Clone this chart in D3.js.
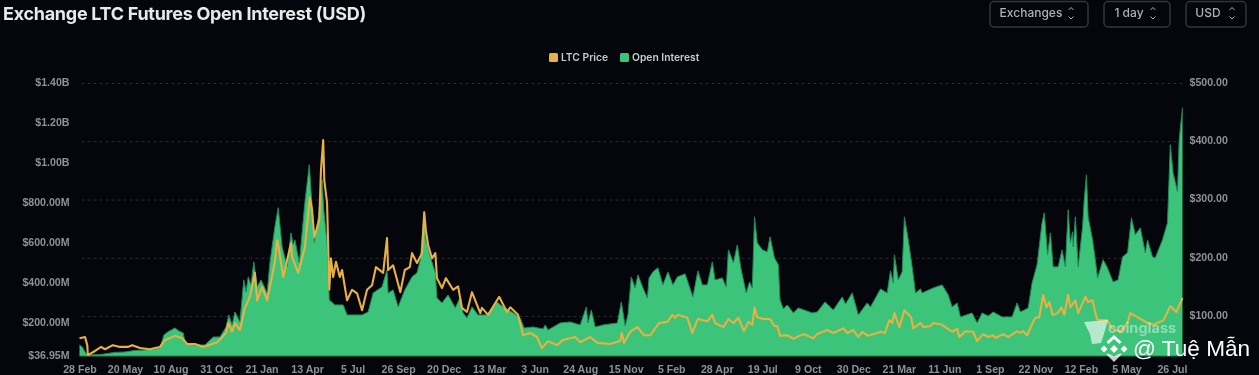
<!DOCTYPE html>
<html>

<head>
    <meta charset="utf-8">
    <title>Exchange LTC Futures Open Interest (USD)</title>
    <script src="https://d3js.org/d3.v7.min.js"></script>
    <style>
        body {
            margin: 0;
            padding: 0;
            background: #04060c;
            overflow: hidden;
        }

        svg {
            display: block;
            font-family: Inter, Roboto, sans-serif;
        }

        .axis text {
            fill: #8f9194;
            font-size: 10.6px;
            font-weight: 600;
        }

        .axis .domain {
            display: none;
        }

        .grid line {
            stroke: #2b2d31;
            stroke-dasharray: 3 3;
        }

        .soft {
            filter: blur(0.6px);
        }
    </style>
</head>

<body>
    <svg id="chart" width="1259" height="375"></svg>
    <script>

        // one label every 82 days
        const tickLabels = ['28 Feb', '20 May', '10 Aug', '31 Oct', '21 Jan', '13 Apr', '5 Jul', '26 Sep', '20 Dec',
            '13 Mar', '3 Jun', '24 Aug', '15 Nov', '5 Feb', '28 Apr', '19 Jul', '9 Oct', '30 Dec', '21 Mar', '11 Jun',
            '1 Sep', '22 Nov', '12 Feb', '5 May', '26 Jul'];
        const tickDays = tickLabels.map((d, i) => i * 82);
        const lastDay = 1987;

        const oiTicks = [36.95, 200, 400, 600, 800, 1000, 1200, 1400];
        const priceTicks = [100, 200, 300, 400, 500];
        const selectors = ['Exchanges', '1 day', 'USD'];

        // days since 28 Feb
        const oiDays = [0, 5, 10, 14, 37, 64, 82, 100, 118, 136, 145, 152, 159, 172, 179, 187, 190, 208, 226, 241, 253,
            264, 269, 275, 280, 289, 296, 300, 304, 309, 314, 320, 327, 338, 343, 352, 358, 365, 374, 381, 385, 388, 396,
            401, 406, 414, 419, 423, 430, 437, 440, 446, 450, 460, 475, 482, 509, 520, 529, 545, 554, 556, 565, 574, 586,
            599, 608, 614, 621, 624, 632, 641, 644, 653, 664, 677, 686, 691, 698, 707, 718, 734, 752, 763, 779, 794, 801,
            817, 835, 839, 844, 866, 884, 902, 913, 916, 922, 929, 943, 969, 976, 983, 988, 994, 1001, 1006, 1015, 1023,
            1026, 1033, 1042, 1051, 1060, 1069, 1077, 1091, 1105, 1114, 1122, 1131, 1140, 1145, 1158, 1165, 1169, 1178,
            1185, 1192, 1201, 1207, 1212, 1216, 1221, 1230, 1239, 1244, 1252, 1259, 1262, 1268, 1275, 1286, 1295, 1320,
            1329, 1343, 1358, 1374, 1380, 1392, 1403, 1419, 1425, 1443, 1455, 1461, 1466, 1468, 1475, 1482, 1486, 1493,
            1500, 1506, 1515, 1518, 1538, 1554, 1565, 1572, 1581, 1587, 1608, 1617, 1626, 1637, 1646, 1662, 1680, 1689,
            1695, 1709, 1716, 1725, 1734, 1738, 1744, 1749, 1754, 1763, 1770, 1776, 1781, 1785, 1789, 1790, 1794, 1799,
            1807, 1810, 1814, 1817, 1825, 1830, 1834, 1844, 1851, 1862, 1871, 1879, 1888, 1895, 1902, 1911, 1920, 1924,
            1933, 1938, 1951, 1960, 1965, 1970, 1978, 1981, 1987];

        // open interest, millions of USD
        const oiValues = [92, 82, 57, 42, 44, 55, 57, 65, 67, 72, 77, 142, 157, 177, 162, 152, 102, 92, 92, 132, 132,
            182, 242, 192, 257, 207, 417, 357, 432, 392, 507, 382, 417, 352, 502, 682, 777, 582, 482, 652, 592, 617, 502,
            652, 802, 992, 782, 602, 727, 917, 767, 602, 317, 292, 292, 242, 242, 257, 352, 382, 467, 352, 367, 282, 367,
            432, 452, 517, 757, 617, 532, 452, 327, 302, 342, 277, 332, 252, 227, 282, 242, 242, 307, 282, 257, 227, 177,
            182, 172, 192, 167, 202, 207, 192, 282, 202, 267, 182, 192, 202, 307, 187, 242, 432, 377, 442, 377, 327,
            427, 457, 477, 392, 457, 392, 432, 447, 332, 462, 392, 392, 507, 417, 427, 382, 567, 502,
            592, 467, 352, 407, 377, 732, 602, 567, 557, 632, 527, 492, 317, 272, 292, 252, 277, 252,
            257, 307, 267, 332, 297, 352, 242, 302, 282, 372, 352, 462, 402, 542, 417, 457, 732, 617,
            482, 352, 372, 352, 377, 392, 342, 282, 302, 232, 252, 202, 252, 237, 257, 232, 232, 302,
            257, 277, 402, 492, 702, 752, 542, 652, 482, 482, 567, 482, 767, 602, 657, 582, 732, 482,
            682, 817, 942, 732, 617, 517, 427, 517, 482, 407, 417, 532, 552, 727, 642, 677, 552, 617,
            532, 527, 617, 702, 1092, 952, 857, 1117, 1277];

        const priceDays = [0, 10, 14, 15, 28, 39, 46, 60, 73, 87, 95, 109, 127, 136, 145, 154, 163, 172, 185, 194, 208,
            223, 239, 248, 257, 264, 268, 275, 280, 289, 298, 304, 307, 316, 320, 329, 338, 352, 356, 358, 367, 381, 383,
            394, 406, 415, 419, 423, 432, 435, 439, 441, 446, 450, 453, 457, 462, 469, 473, 482, 491, 500, 509, 518, 527,
            534, 547, 554, 556, 565, 578, 586, 595, 599, 608, 617, 621, 624, 628, 635, 641, 644, 653, 660, 673, 682, 689,
            698, 707, 722, 725, 736, 756, 770, 776, 790, 799, 812, 824, 833, 844, 860, 871, 893, 902, 920, 933, 956, 974,
            977, 981, 992, 1005, 1017, 1028, 1044, 1059, 1068, 1073, 1078, 1095, 1104, 1114, 1131, 1140, 1145, 1160, 1169,
            1178, 1187, 1197, 1205, 1212, 1216, 1221, 1232, 1244, 1252, 1257, 1262, 1275, 1286, 1304, 1322, 1329, 1347,
            1358, 1376, 1383, 1394, 1403, 1410, 1421, 1443, 1451, 1459, 1464, 1468, 1477, 1486, 1498, 1502, 1515, 1520,
            1533, 1538, 1554, 1572, 1581, 1585, 1596, 1610, 1617, 1628, 1637, 1646, 1650, 1664, 1673, 1689, 1695, 1700,
            1707, 1718, 1722, 1729, 1736, 1742, 1747, 1753, 1762, 1769, 1774, 1781, 1785, 1794, 1799, 1812, 1817, 1825,
            1830, 1834, 1851, 1860, 1875, 1888, 1893, 1906, 1924, 1935, 1953, 1965, 1976, 1987];

        // LTC price, USD
        const priceValues = [62, 64, 50, 33, 40, 47, 43, 50, 47, 47, 50, 45, 43, 45, 47, 59, 62, 66, 62, 52, 52,
            47, 52, 55, 64, 71, 88, 73, 88, 76, 114, 127, 133, 174, 127, 150, 127, 193, 230, 222, 167, 225, 201,
            174, 218, 304, 282, 235, 265, 350, 402, 333, 294, 145, 199, 167, 193, 167, 179, 127, 145, 139, 110, 145, 153,
            184, 174, 234, 179, 187, 141, 179, 184, 208, 191, 208, 278, 247, 222, 199, 208, 165, 148, 165, 145, 151, 114,
            107, 141, 105, 114, 102, 133, 107, 115, 102, 67, 71, 64, 45, 57, 50, 59, 64, 55, 64, 54, 52, 57,
            71, 54, 73, 81, 67, 67, 88, 90, 102, 97, 102, 97, 71, 95, 91, 102, 88, 81, 95,
            88, 97, 74, 90, 85, 114, 98, 95, 95, 83, 83, 66, 67, 61, 69, 62, 69, 76,
            71, 79, 71, 76, 64, 73, 66, 73, 71, 93, 88, 105, 81, 110, 98, 79, 88, 81,
            83, 88, 85, 73, 78, 64, 74, 73, 57, 69, 64, 67, 62, 69, 64, 74, 71, 74,
            67, 90, 97, 98, 136, 115, 124, 102, 105, 115, 102, 136, 115, 127, 105, 133, 124, 127,
            105, 93, 93, 79, 73, 88, 105, 98, 88, 85, 93, 117, 107, 131];

        const seriesColors = { price: '#e9b044', oi: '#3cc47b' };

        const plotLeft = 79.5;
        const plotRight = 1182.5;
        const plotTop = 83;
        const plotBottom = 356;

        const x = d3.scaleLinear().domain([0, lastDay]).range([plotLeft, plotRight]);
        const yOi = d3.scaleLinear().domain([36.95, 1400]).range([plotBottom, plotTop]);
        const yPrice = d3.scaleLinear().domain([31.4, 500]).range([plotBottom, plotTop]);

        const svg = d3.select('#chart');
        const chart = svg.append('g').attr('class', 'soft');

        // title
        chart.append('text')
            .attr('x', 3)
            .attr('y', 20)
            .attr('fill', '#e8e9ea')
            .attr('font-size', 18)
            .attr('font-weight', 700)
            .attr('letter-spacing', -0.28)
            .text('Exchange LTC Futures Open Interest (USD)');

        // selectors: box x, box width, label centre, chevron centre
        const selectorBoxes = [[990, 98, 1031, 1071], [1104, 66, 1129, 1153], [1186, 60, 1208, 1232]];
        selectors.forEach((label, i) => {
            const [bx, bw, tx, cx] = selectorBoxes[i];
            const g = chart.append('g');
            g.append('rect')
                .attr('x', bx).attr('y', 1.5)
                .attr('width', bw).attr('height', 25.5)
                .attr('rx', 4)
                .attr('fill', 'none')
                .attr('stroke', '#33363a')
                .attr('stroke-width', 1.5);
            g.append('text')
                .attr('x', tx).attr('y', 17)
                .attr('text-anchor', 'middle')
                .attr('fill', '#aeb0b2')
                .attr('font-size', 12)
                .attr('font-weight', 500)
                .text(label);
            g.append('path')
                .attr('d', `M${cx - 2.5},10 L${cx},7.5 L${cx + 2.5},10 M${cx - 2.5},16.5 L${cx},19 L${cx + 2.5},16.5`)
                .attr('fill', 'none')
                .attr('stroke', '#aeb0b2')
                .attr('stroke-width', 1);
        });

        // legend
        const legend = chart.append('g').attr('font-size', 10.3).attr('font-weight', 600).attr('fill', '#c9cacb');
        [['LTC Price', seriesColors.price, 549], ['Open Interest', seriesColors.oi, 620]].forEach(([label, color, lx]) => {
            legend.append('rect')
                .attr('x', lx).attr('y', 53)
                .attr('width', 9).attr('height', 9)
                .attr('rx', 1.5)
                .attr('fill', color);
            legend.append('text')
                .attr('x', lx + 12).attr('y', 61)
                .text(label);
        });

        // right axis draws the dashed grid, so it goes under the area
        chart.append('g')
            .attr('class', 'axis grid')
            .attr('transform', `translate(${plotRight},0)`)
            .call(d3.axisRight(yPrice)
                .tickValues(priceTicks)
                .tickSize(-(plotRight - plotLeft))
                .tickPadding(7)
                .tickFormat(d => '$' + d.toFixed(2)));

        chart.append('g')
            .attr('class', 'axis')
            .attr('transform', `translate(${plotLeft - 10},0)`)
            .call(d3.axisLeft(yOi)
                .tickValues(oiTicks)
                .tickSize(0)
                .tickPadding(0)
                .tickFormat(d => d >= 1000 ? '$' + (d / 1000).toFixed(2) + 'B' : '$' + d.toFixed(2) + 'M'));

        // labels sit a pixel above their tick in the original
        chart.selectAll('.axis text').attr('dy', '0.22em');

        chart.append('g')
            .attr('class', 'axis')
            .attr('transform', `translate(0,${plotBottom})`)
            .call(d3.axisBottom(x)
                .tickValues(tickDays)
                .tickSize(0)
                .tickPadding(9)
                .tickFormat((d, i) => tickLabels[i]));

        const area = d3.area()
            .x((d, i) => x(oiDays[i]))
            .y0(plotBottom)
            .y1(d => yOi(d));

        const oiLine = d3.line()
            .x((d, i) => x(oiDays[i]))
            .y(d => yOi(d));

        const priceLine = d3.line()
            .x((d, i) => x(priceDays[i]))
            .y(d => yPrice(d));

        chart.append('path')
            .datum(oiValues)
            .attr('d', area)
            .attr('fill', seriesColors.oi);

        chart.append('path')
            .datum(oiValues)
            .attr('d', oiLine)
            .attr('fill', 'none')
            .attr('stroke', '#23875a')
            .attr('stroke-width', 1);

        chart.append('line')
            .attr('x1', plotLeft).attr('x2', plotRight)
            .attr('y1', plotBottom).attr('y2', plotBottom)
            .attr('stroke', '#23875a');

        chart.append('path')
            .datum(priceValues)
            .attr('d', priceLine)
            .attr('fill', 'none')
            .attr('stroke', seriesColors.price)
            .attr('stroke-width', 2.1)
            .attr('stroke-linejoin', 'round');

        // coinglass watermark
        chart.append('path')
            .attr('d', 'M1084,322 L1108,320 L1104,334 L1101,343 L1092,344 L1090,334 Z')
            .attr('fill', '#fff')
            .attr('opacity', 0.62);
        chart.append('text')
            .attr('x', 1108).attr('y', 333)
            .attr('fill', '#fff')
            .attr('opacity', 0.42)
            .attr('font-size', 14.5)
            .attr('font-weight', 700)
            .text('coinglass');

        // reposter tag, sharp in the original
        const tag = svg.append('g').attr('fill', '#fff');
        [[1104, 349, 3.4], [1114, 349, 4], [1124, 349, 3.4]].forEach(([cx, cy, r]) => {
            tag.append('path')
                .attr('d', `M${cx},${cy - r} L${cx + r},${cy} L${cx},${cy + r} L${cx - r},${cy} Z`);
        });
        tag.append('path')
            .attr('d', 'M1107.5,343 L1114,337 L1120.5,343')
            .attr('fill', 'none')
            .attr('stroke', '#fff')
            .attr('stroke-width', 3);
        tag.append('path')
            .attr('d', 'M1107,354 L1114,361 L1121,354 L1114,357 Z')
            .attr('opacity', 0.8)
            .attr('stroke', '#fff')
            .attr('stroke-width', 1.5);
        tag.append('text')
            .attr('x', 1133).attr('y', 356)
            .attr('font-family', '"Liberation Sans", sans-serif')
            .attr('font-size', 22.6)
            .text('@ Tuệ Mẫn');

    </script>

</body>

</html>
